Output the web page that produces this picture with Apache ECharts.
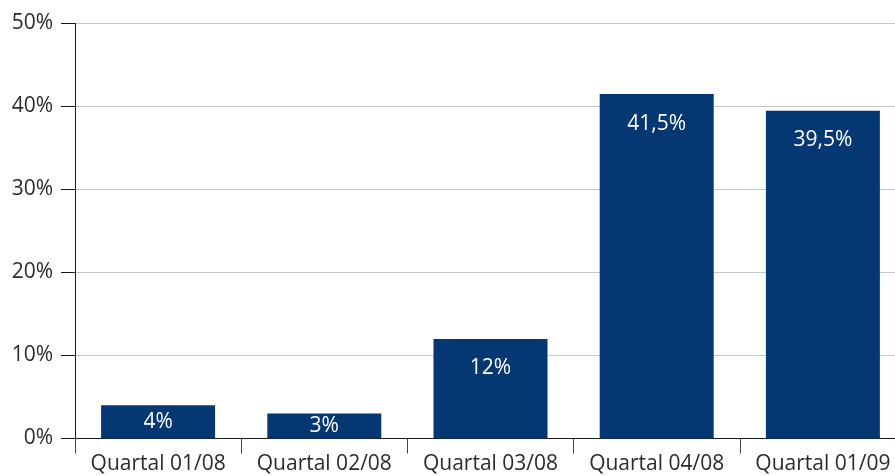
<!DOCTYPE html>
<html>
<head>
<meta charset="utf-8">
<script src="https://cdn.jsdelivr.net/npm/echarts@6/dist/echarts.min.js"></script>
<style>
  html, body { margin: 0; padding: 0; background: #ffffff; }
  #chart { width: 895px; height: 476px; }
</style>
</head>
<body>
<div id="chart"></div>
<script>
// Quarterly shares, in percent
const categories = ['Quartal 01/08', 'Quartal 02/08', 'Quartal 03/08', 'Quartal 04/08', 'Quartal 01/09'];
const values = [4, 3, 12, 41.5, 39.5];
const yTicks = [0, 10, 20, 30, 40, 50];

const FONT = '"Open Sans", "Noto Sans", sans-serif';
const BAR = '#053772';
const TEXT = '#2b2b2b';

const fmtPct = v => String(v).replace('.', ',') + '%';

const chart = echarts.init(document.getElementById('chart'), null, { renderer: 'canvas' });

chart.setOption({
  animation: false,
  backgroundColor: '#ffffff',
  // the plot runs slightly past the right edge, so the last band is clipped
  grid: {
    left: 75, width: 831, top: 23.5, height: 415,
    containLabel: false, outerBoundsMode: 'none'
  },
  xAxis: {
    type: 'category',
    data: categories,
    boundaryGap: true,
    axisLine: { show: true, lineStyle: { color: '#1a1a1a', width: 1 } },
    axisTick: { show: true, interval: 0, length: 15, lineStyle: { color: '#444444', width: 1 } },
    axisLabel: {
      color: TEXT, fontFamily: FONT, fontSize: 21, margin: 15,
      interval: 0, hideOverlap: false
    },
    splitLine: { show: false }
  },
  yAxis: {
    type: 'value',
    min: yTicks[0],
    max: yTicks[yTicks.length - 1],
    interval: 10,
    axisLine: { show: true, lineStyle: { color: '#1a1a1a', width: 1 } },
    axisTick: { show: true, length: 14, lineStyle: { color: '#1a1a1a', width: 1 } },
    axisLabel: {
      color: TEXT, fontFamily: FONT, fontSize: 21, margin: 22,
      formatter: v => v + '%'
    },
    splitLine: { show: true, lineStyle: { color: '#c6c6c6', width: 1 } }
  },
  series: [{
    type: 'bar',
    barWidth: 114,
    data: values.map(v => ({
      value: v,
      label: v < 5 ? { position: 'inside' } : { position: 'insideTop', distance: 19 }
    })),
    itemStyle: { color: BAR },
    label: {
      show: true,
      color: '#ffffff',
      fontFamily: FONT,
      fontSize: 21,
      formatter: p => fmtPct(p.value)
    }
  }]
});
</script>
</body>
</html>
